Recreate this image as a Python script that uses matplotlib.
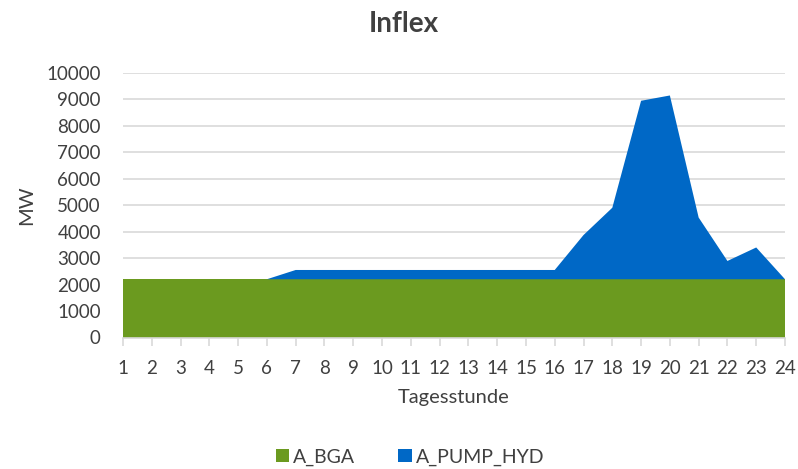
import matplotlib
matplotlib.use("Agg")
import matplotlib.pyplot as plt
import numpy as np

hours = list(range(1, 25))
a_bga = [2200] * 24
a_pump_hyd = [0, 0, 0, 0, 0, 0,
              350, 350, 350, 350, 350, 350, 350, 350, 350, 350,
              1670, 2700, 6740, 6940, 2330, 690, 1200, 0]
series_names = ["A_BGA", "A_PUMP_HYD"]
colors = ["#6B9A1F", "#0068C6"]

plt.rcParams['font.family'] = ['Lato', 'DejaVu Sans']

fig = plt.figure(figsize=(7.98, 4.69), dpi=100)
ax = fig.add_axes([123 / 798, 1 - 337.5 / 469, (785 - 123) / 798, (337.5 - 72.7) / 469])

ax.stackplot(hours, a_bga, a_pump_hyd, colors=colors, labels=series_names, zorder=2)

ax.set_xlim(1, 24)
ax.set_ylim(0, 10000)
ax.set_yticks(np.arange(0, 10001, 1000))
ax.set_xticks(hours)
ax.yaxis.grid(True, color="#D9D9D9", linewidth=1.2, zorder=0)
ax.set_axisbelow(True)

for side in ["top", "right", "left"]:
    ax.spines[side].set_visible(False)
ax.spines["bottom"].set_color("#D9D9D9")
ax.spines["bottom"].set_linewidth(1.2)
ax.tick_params(axis="y", length=0, pad=16, labelsize=13.5, labelcolor="#404040")
ax.tick_params(axis="x", length=6, color="#D9D9D9", width=1.2, pad=10,
               labelsize=13.5, labelcolor="#404040")

ax.set_ylabel("MW", fontsize=14.5, color="#404040", labelpad=8)
ax.set_xlabel("Tagesstunde", fontsize=14.5, color="#404040", labelpad=9)
fig.text(0.506, 1 - 24 / 469, "Inflex", ha="center", va="center",
         fontsize=20, fontweight="bold", color="#404040")

leg = fig.legend(loc="center", bbox_to_anchor=(410 / 798, 1 - 457 / 469), ncol=2,
                 frameon=False, fontsize=14, handlelength=0.7, handleheight=0.7,
                 handletextpad=0.2, columnspacing=2.2)
for t in leg.get_texts():
    t.set_color("#404040")

fig.savefig("out.png", dpi=100)
